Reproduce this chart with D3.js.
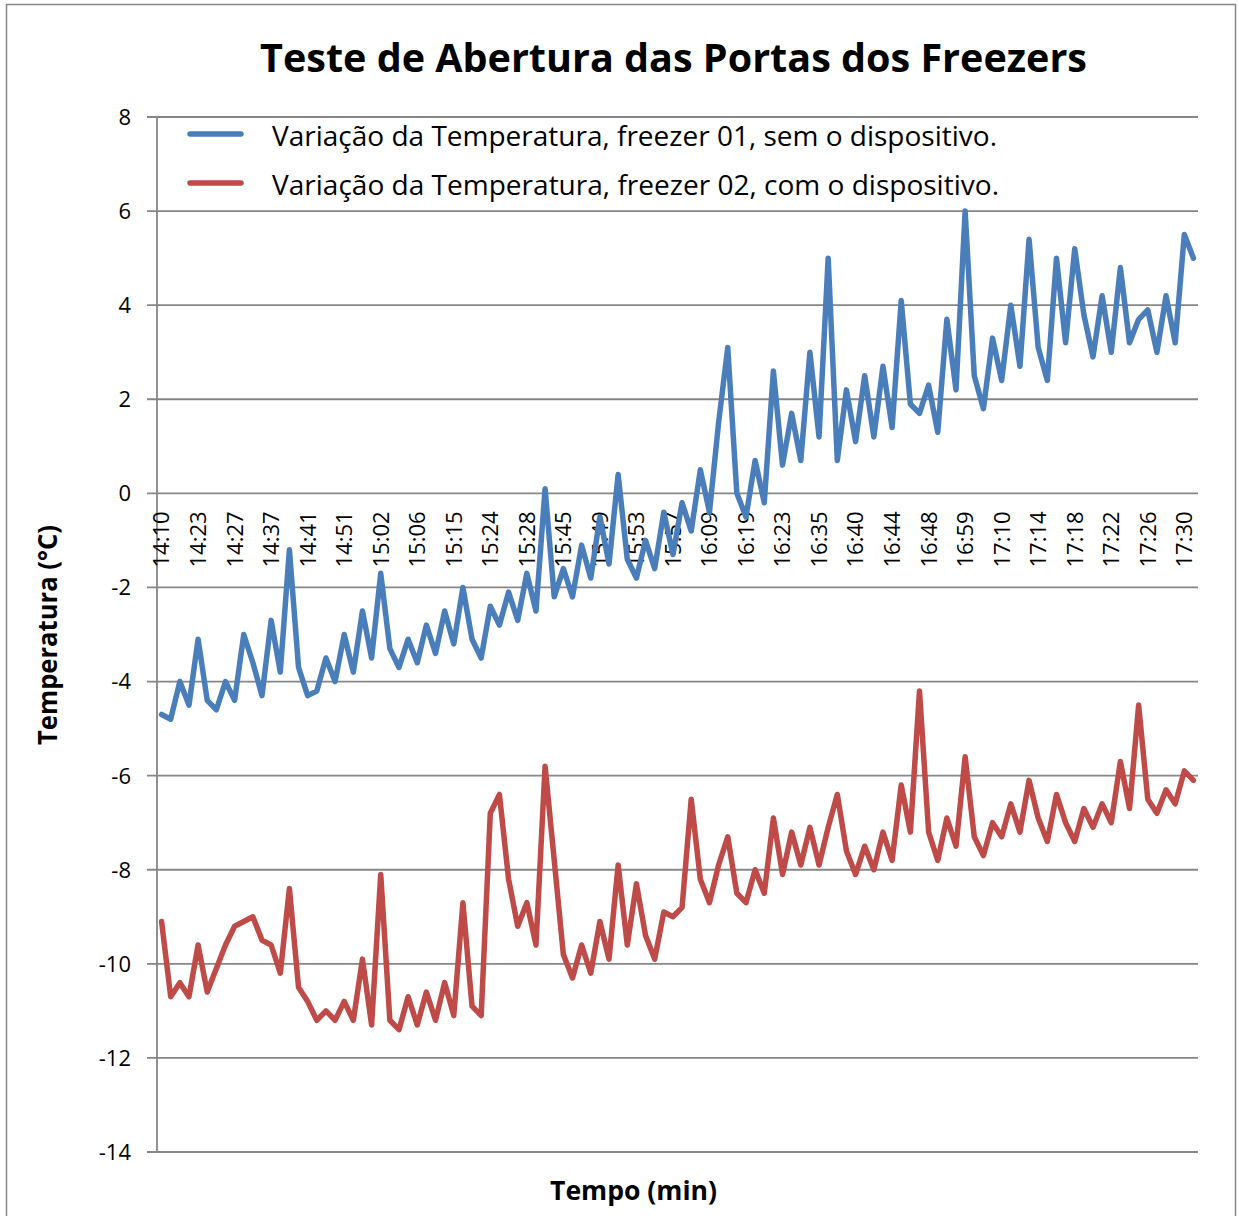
<!DOCTYPE html>
<html>
<head>
<meta charset="utf-8">
<script src="https://cdn.jsdelivr.net/npm/d3@7"></script>
<style>
  body { margin: 0; background: #fff; }
  svg { display: block; }
  text { font-family: "Open Sans", "Noto Sans", sans-serif; fill: #000; }
</style>
</head>
<body>
<script>
// freezer 01, without the device (blue)
const blueValues = [
  -4.7, -4.8, -4.0, -4.5, -3.1, -4.4, -4.6, -4.0, -4.4, -3.0,
  -3.6, -4.3, -2.7, -3.8, -1.2, -3.7, -4.3, -4.2, -3.5, -4.0,
  -3.0, -3.8, -2.5, -3.5, -1.7, -3.3, -3.7, -3.1, -3.6, -2.8,
  -3.4, -2.5, -3.2, -2.0, -3.1, -3.5, -2.4, -2.8, -2.1, -2.7,
  -1.7, -2.5, 0.1, -2.2, -1.6, -2.2, -1.1, -1.8, -0.5, -1.5,
  0.4, -1.4, -1.8, -1.0, -1.6, -0.4, -1.3, -0.2, -0.8, 0.5,
  -0.4, 1.5, 3.1, 0.0, -0.5, 0.7, -0.2, 2.6, 0.6, 1.7,
  0.7, 3.0, 1.2, 5.0, 0.7, 2.2, 1.1, 2.5, 1.2, 2.7,
  1.4, 4.1, 1.9, 1.7, 2.3, 1.3, 3.7, 2.2, 6.0, 2.5,
  1.8, 3.3, 2.4, 4.0, 2.7, 5.4, 3.1, 2.4, 5.0, 3.2,
  5.2, 3.8, 2.9, 4.2, 3.0, 4.8, 3.2, 3.7, 3.9, 3.0,
  4.2, 3.2, 5.5, 5.0
];

// freezer 02, with the device (red)
const redValues = [
  -9.1, -10.7, -10.4, -10.7, -9.6, -10.6, -10.1, -9.6, -9.2, -9.1,
  -9.0, -9.5, -9.6, -10.2, -8.4, -10.5, -10.8, -11.2, -11.0, -11.2,
  -10.8, -11.2, -9.9, -11.3, -8.1, -11.2, -11.4, -10.7, -11.3, -10.6,
  -11.2, -10.4, -11.1, -8.7, -10.9, -11.1, -6.8, -6.4, -8.2, -9.2,
  -8.7, -9.6, -5.8, -7.8, -9.8, -10.3, -9.6, -10.2, -9.1, -9.9,
  -7.9, -9.6, -8.3, -9.4, -9.9, -8.9, -9.0, -8.8, -6.5, -8.2,
  -8.7, -7.9, -7.3, -8.5, -8.7, -8.0, -8.5, -6.9, -8.1, -7.2,
  -7.9, -7.1, -7.9, -7.1, -6.4, -7.6, -8.1, -7.5, -8.0, -7.2,
  -7.8, -6.2, -7.2, -4.2, -7.2, -7.8, -6.9, -7.5, -5.6, -7.3,
  -7.7, -7.0, -7.3, -6.6, -7.2, -6.1, -6.9, -7.4, -6.4, -7.0,
  -7.4, -6.7, -7.1, -6.6, -7.0, -5.7, -6.7, -4.5, -6.5, -6.8,
  -6.3, -6.6, -5.9, -6.1
];

// only every 4th reading carries a label on the axis
const tickLabels = [
  "14:10", "14:23", "14:27", "14:37", "14:41", "14:51", "15:02", "15:06",
  "15:15", "15:24", "15:28", "15:45", "15:49", "15:53", "15:57", "16:09",
  "16:19", "16:23", "16:35", "16:40", "16:44", "16:48", "16:59", "17:10",
  "17:14", "17:18", "17:22", "17:26", "17:30"
];
const tickEvery = 4;
const yTicks = [8, 6, 4, 2, 0, -2, -4, -6, -8, -10, -12, -14];

const seriesNames = [
  "Variação da Temperatura, freezer 01, sem o dispositivo.",
  "Variação da Temperatura, freezer 02, com o dispositivo."
];
const seriesColors = ["#4a7ebb", "#be4b48"];

const W = 1239, H = 1216;
const plot = { left: 157, right: 1198, top: 117, bottom: 1152 };
const gridColor = "#868686";

const svg = d3.select("body").append("svg")
  .attr("width", W)
  .attr("height", H);

// chart area border
svg.append("rect")
  .attr("x", 6.5).attr("y", 4.5)
  .attr("width", 1229).attr("height", 1240)
  .attr("fill", "#fff")
  .attr("stroke", gridColor)
  .attr("stroke-width", 1.5);

const x = d3.scaleBand()
  .domain(d3.range(blueValues.length))
  .range([plot.left, plot.right]);
const cx = i => x(i) + x.bandwidth() / 2;

const y = d3.scaleLinear()
  .domain([-14, 8])
  .range([plot.bottom, plot.top]);

// horizontal gridlines
svg.append("g")
  .selectAll("line")
  .data(yTicks)
  .join("line")
  .attr("x1", plot.left - 10)
  .attr("x2", plot.right)
  .attr("y1", d => y(d))
  .attr("y2", d => y(d))
  .attr("stroke", gridColor)
  .attr("stroke-width", 1.8);

// vertical axis line
svg.append("line")
  .attr("x1", plot.left).attr("x2", plot.left)
  .attr("y1", plot.top).attr("y2", plot.bottom)
  .attr("stroke", gridColor)
  .attr("stroke-width", 1.8);

// y tick labels
svg.append("g")
  .selectAll("text")
  .data(yTicks)
  .join("text")
  .attr("x", 131)
  .attr("y", d => y(d))
  .attr("dy", "0.36em")
  .attr("text-anchor", "end")
  .style("font-size", "22px")
  .text(d => d);

// x tick labels, hanging under the 0 line
const labelIdx = tickLabels.map((t, k) => k * tickEvery);
svg.append("g")
  .selectAll("text")
  .data(labelIdx)
  .join("text")
  .attr("transform", i => `translate(${cx(i)},${y(0) + 18}) rotate(-90)`)
  .attr("dy", "0.36em")
  .attr("text-anchor", "end")
  .style("font-size", "22px")
  .text((i, k) => tickLabels[k]);

// series lines
const line = d3.line()
  .x((d, i) => cx(i))
  .y(d => y(d));

[blueValues, redValues].forEach((vals, s) => {
  svg.append("path")
    .datum(vals)
    .attr("d", line)
    .attr("fill", "none")
    .attr("stroke", seriesColors[s])
    .attr("stroke-width", 5.5)
    .attr("stroke-linejoin", "round")
    .attr("stroke-linecap", "round");
});

// legend
const legend = svg.append("g");
seriesNames.forEach((name, s) => {
  const ly = 134 + s * 49;
  legend.append("line")
    .attr("x1", 190).attr("x2", 241)
    .attr("y1", ly).attr("y2", ly)
    .attr("stroke", seriesColors[s])
    .attr("stroke-width", 5.5)
    .attr("stroke-linecap", "round");
  legend.append("text")
    .attr("x", 272)
    .attr("y", ly + 12)
    .attr("textLength", s === 0 ? 725 : 727)
    .attr("lengthAdjust", "spacingAndGlyphs")
    .style("font-size", "27px")
    .text(name);
});

// title
svg.append("text")
  .attr("x", 673.5)
  .attr("y", 72)
  .attr("text-anchor", "middle")
  .attr("textLength", 827)
  .attr("lengthAdjust", "spacingAndGlyphs")
  .style("font-size", "39px")
  .style("font-weight", "bold")
  .text("Teste de Abertura das Portas dos Freezers");

// axis titles
svg.append("text")
  .attr("transform", "translate(57,635) rotate(-90)")
  .attr("text-anchor", "middle")
  .attr("textLength", 220)
  .attr("lengthAdjust", "spacingAndGlyphs")
  .style("font-size", "27px")
  .style("font-weight", "bold")
  .text("Temperatura (°C)");

svg.append("text")
  .attr("x", 633.5)
  .attr("y", 1200)
  .attr("text-anchor", "middle")
  .attr("textLength", 167)
  .attr("lengthAdjust", "spacingAndGlyphs")
  .style("font-size", "27px")
  .style("font-weight", "bold")
  .text("Tempo (min)");
</script>
</body>
</html>
